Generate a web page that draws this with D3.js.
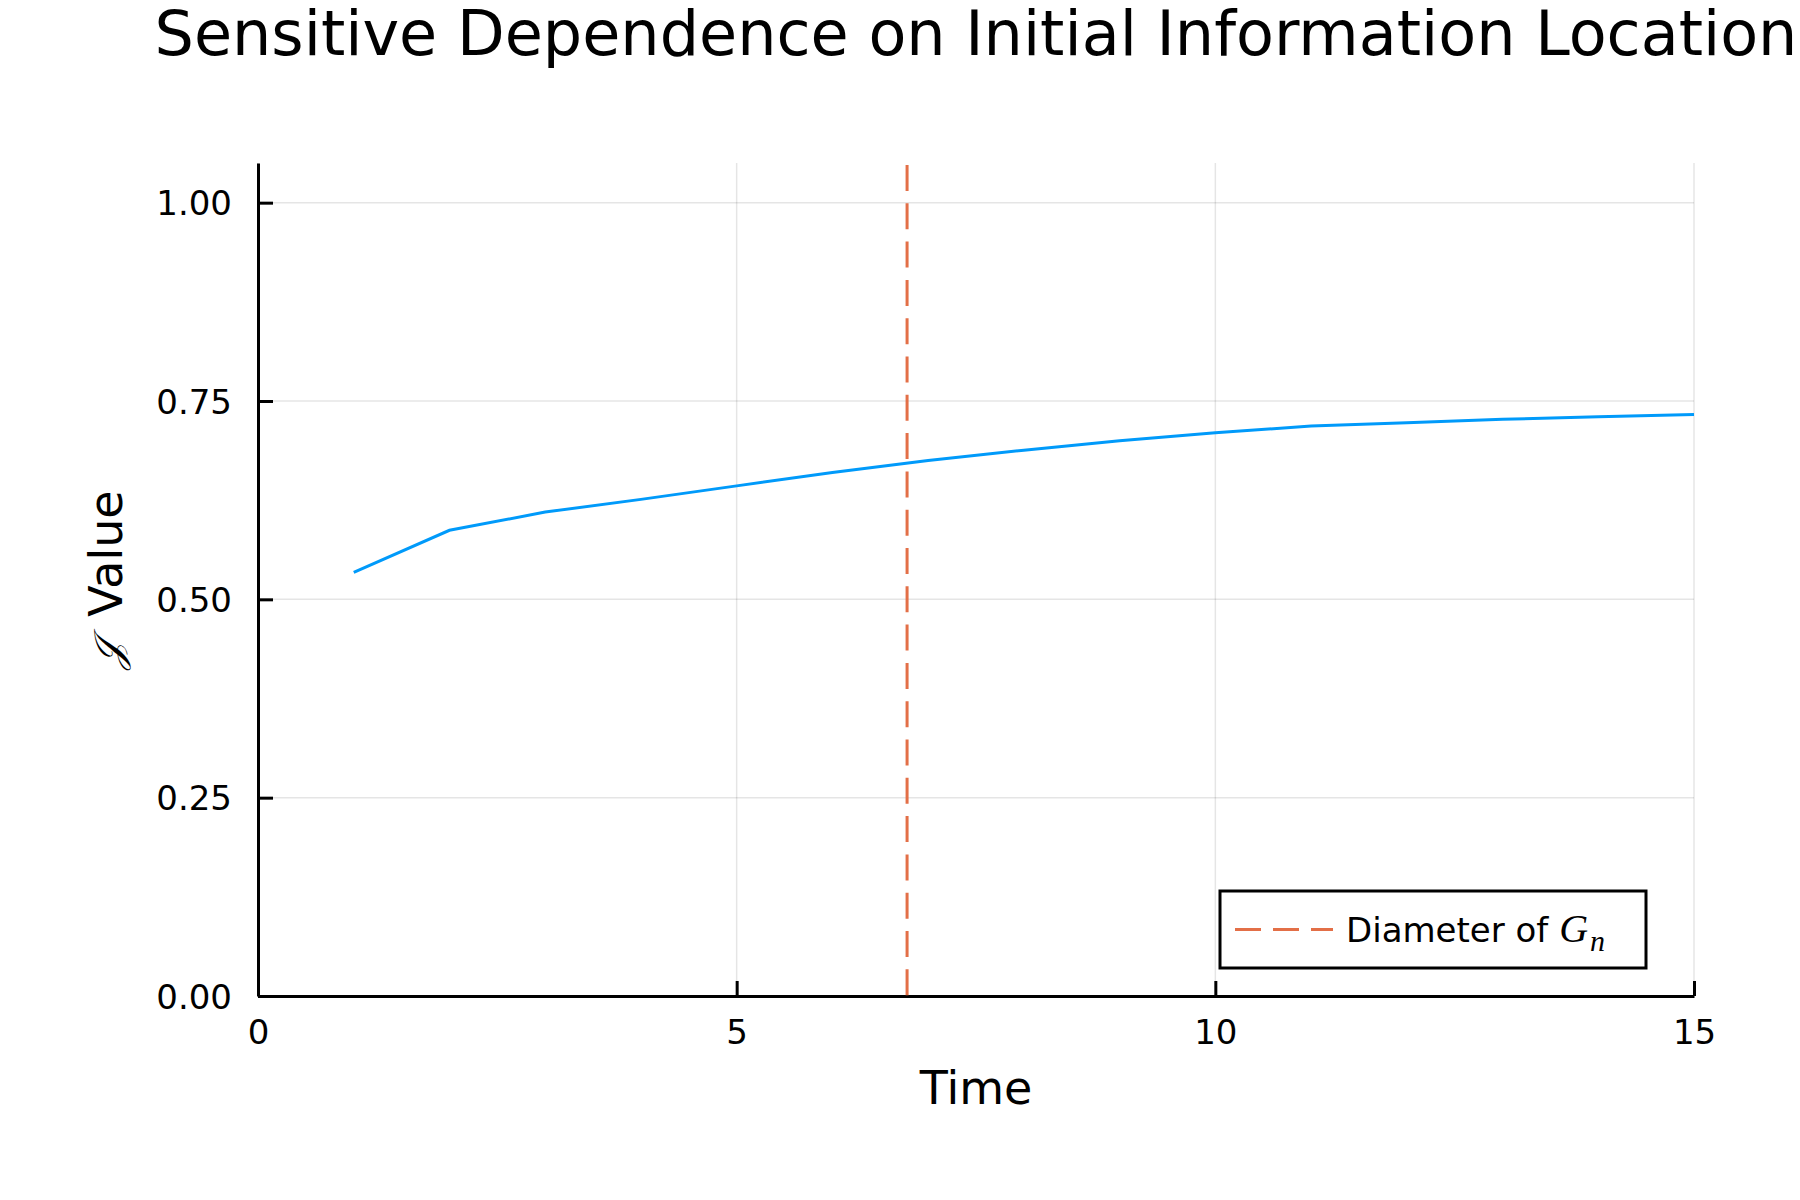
<!DOCTYPE html>
<html>
<head>
<meta charset="utf-8">
<title>Sensitive Dependence on Initial Information Location</title>
<script src="https://cdn.jsdelivr.net/npm/d3@7"></script>
<style>
  html, body { margin: 0; padding: 0; background: #fff; }
  svg { display: block; font-family: "DejaVu Sans", sans-serif; }
</style>
</head>
<body>
<div id="chart"></div>
<script>
// --- Data ---
const times = [1, 2, 3, 4, 5, 6, 7, 8, 9, 10, 11, 12, 13, 14, 15];
const jValues = [0.534, 0.587, 0.610, 0.626, 0.643, 0.660, 0.675, 0.688, 0.700, 0.710, 0.7185, 0.7225, 0.727, 0.730, 0.733];
const diameter = [6.78];
const xTicks = [0, 5, 10, 15];
const yTicks = [0, 0.25, 0.5, 0.75, 1.0];

const width = 1800, height = 1200;
const margin = { top: 163, right: 106, bottom: 204, left: 258 };

const svg = d3.select("#chart").append("svg")
  .attr("width", width)
  .attr("height", height);

const x = d3.scaleLinear().domain([0, 15]).range([margin.left, width - margin.right]);
const y = d3.scaleLinear().domain([0, 1.05]).range([height - margin.bottom, margin.top]);

// --- Grid ---
const grid = svg.append("g").attr("stroke", "#000").attr("stroke-opacity", 0.1).attr("stroke-width", 1.5);
grid.selectAll(".gx").data(xTicks).join("line")
  .attr("x1", d => x(d)).attr("x2", d => x(d))
  .attr("y1", y(0)).attr("y2", y(1.05));
grid.selectAll(".gy").data(yTicks).join("line")
  .attr("x1", x(0)).attr("x2", x(15))
  .attr("y1", d => y(d)).attr("y2", d => y(d));

// --- Axes (ticks point inward) ---
const xAxis = svg.append("g")
  .attr("transform", `translate(0,${y(0)})`)
  .call(d3.axisBottom(x).tickValues(xTicks).tickSize(-15).tickPadding(24).tickFormat(d3.format("d")).tickSizeOuter(0));
const yAxis = svg.append("g")
  .attr("transform", `translate(${x(0)},0)`)
  .call(d3.axisLeft(y).tickValues(yTicks).tickSize(-15).tickPadding(26).tickFormat(d3.format(".2f")).tickSizeOuter(0));

[xAxis, yAxis].forEach(a => {
  a.select(".domain").attr("stroke", "#000").attr("stroke-width", 3);
  a.selectAll(".tick line").attr("stroke", "#000").attr("stroke-width", 3);
  a.selectAll(".tick text").attr("fill", "#000").attr("font-size", 34)
    .attr("font-family", "DejaVu Sans, sans-serif");
});
yAxis.selectAll(".tick text").attr("dy", "0.36em");
xAxis.selectAll(".tick text").attr("dy", "0.71em");

// --- J line ---
const line = d3.line().x((d, i) => x(times[i])).y(d => y(d));
svg.append("path")
  .datum(jValues)
  .attr("fill", "none")
  .attr("stroke", "#009AFA")
  .attr("stroke-width", 3)
  .attr("d", line);

// --- Diameter vline ---
svg.selectAll(".vline").data(diameter).join("line")
  .attr("x1", d => x(d)).attr("x2", d => x(d))
  .attr("y1", y(1.05)).attr("y2", y(0))
  .attr("stroke", "#E36F47")
  .attr("stroke-width", 3)
  .attr("stroke-dasharray", "26 12.3")
  .attr("stroke-dashoffset", -2);

// --- Titles ---
svg.append("text")
  .attr("x", (x(0) + x(15)) / 2).attr("y", 55)
  .attr("text-anchor", "middle")
  .attr("font-size", 62)
  .text("Sensitive Dependence on Initial Information Location");

svg.append("text")
  .attr("x", (x(0) + x(15)) / 2).attr("y", 1104)
  .attr("text-anchor", "middle")
  .attr("font-size", 46)
  .text("Time");

const yl = svg.append("text")
  .attr("transform", `translate(122,${(y(0) + y(1.05)) / 2}) rotate(-90)`)
  .attr("text-anchor", "middle")
  .attr("font-size", 46);
yl.append("tspan").attr("font-family", "DejaVu Serif, Liberation Serif, serif").attr("font-style", "italic")
  .attr("font-size", 40).text("𝒥");
yl.append("tspan").attr("dx", 24).text("Value");

// --- Legend ---
const lg = svg.append("g").attr("transform", "translate(1220,891)");
lg.append("rect")
  .attr("width", 426).attr("height", 77)
  .attr("fill", "#fff").attr("stroke", "#000").attr("stroke-width", 3);
lg.append("line")
  .attr("x1", 15).attr("x2", 113).attr("y1", 38.5).attr("y2", 38.5)
  .attr("stroke", "#E36F47").attr("stroke-width", 3)
  .attr("stroke-dasharray", "26 12");
const lt = lg.append("text")
  .attr("x", 126).attr("y", 38.5).attr("dy", "0.36em")
  .attr("font-size", 34);
lt.append("tspan").text("Diameter of ");
lt.append("tspan").attr("font-family", "Liberation Serif, serif").attr("font-style", "italic").attr("font-size", 40).text("G");
lt.append("tspan").attr("font-family", "Liberation Serif, serif").attr("font-style", "italic").attr("font-size", 30)
  .attr("dx", 2).attr("dy", "0.3em").text("n");
</script>
</body>
</html>
